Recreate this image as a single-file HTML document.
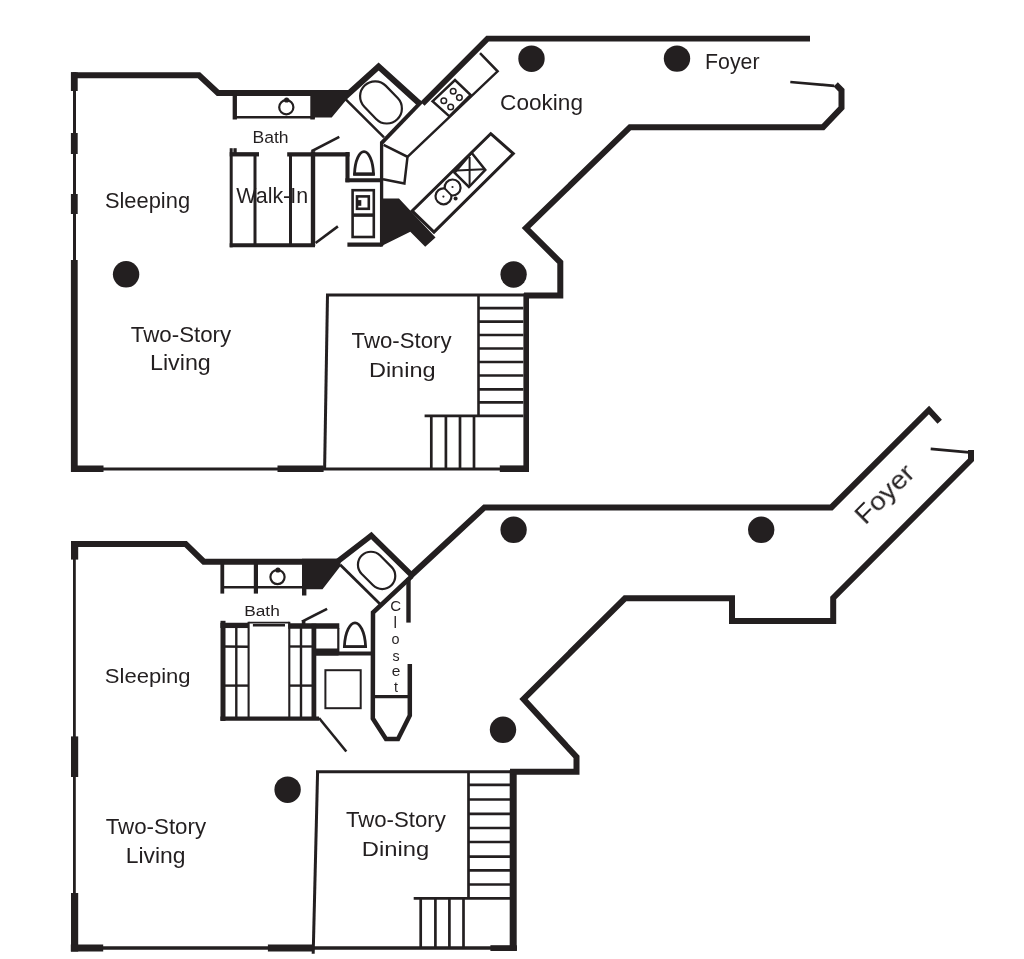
<!DOCTYPE html>
<html><head><meta charset="utf-8"><title>Floor Plan</title>
<style>
html,body{margin:0;padding:0;background:#fff;}
body{width:1024px;height:959px;overflow:hidden;}
svg{display:block;}
text{font-family:"Liberation Sans",sans-serif;fill:#231f20;}
text.big{}
.tx{opacity:0.999;}
</style></head><body>
<svg width="1024" height="959" viewBox="0 0 1024 959">
<g class="tx">
<text id="foyer1" class="big" x="705.10" y="69.25" font-size="21.64" textLength="54.40" lengthAdjust="spacingAndGlyphs">Foyer</text>
<text id="cooking" class="big" x="500.10" y="109.60" font-size="21.60" textLength="82.90" lengthAdjust="spacingAndGlyphs">Cooking</text>
<text id="bath1" x="252.50" y="143.45" font-size="15.95" textLength="36.10" lengthAdjust="spacingAndGlyphs">Bath</text>
<text id="sleep1" class="big" x="104.90" y="208.30" font-size="21.80" textLength="85.20" lengthAdjust="spacingAndGlyphs">Sleeping</text>
<text id="walkin" class="big" x="236.30" y="203.45" font-size="22.69" textLength="71.80" lengthAdjust="spacingAndGlyphs">Walk-In</text>
<text id="two1" class="big" x="130.80" y="341.80" font-size="21.75" textLength="100.40" lengthAdjust="spacingAndGlyphs">Two-Story</text>
<text id="living1" class="big" x="150.00" y="370.35" font-size="21.30" textLength="60.80" lengthAdjust="spacingAndGlyphs">Living</text>
<text id="two2" class="big" x="351.60" y="347.80" font-size="21.95" textLength="99.90" lengthAdjust="spacingAndGlyphs">Two-Story</text>
<text id="dining1" class="big" x="368.90" y="377.20" font-size="20.80" textLength="66.70" lengthAdjust="spacingAndGlyphs">Dining</text>
<text id="bath2" x="244.20" y="615.85" font-size="14.89" textLength="35.60" lengthAdjust="spacingAndGlyphs">Bath</text>
<text id="sleep2" class="big" x="104.80" y="683.35" font-size="20.90" textLength="85.80" lengthAdjust="spacingAndGlyphs">Sleeping</text>
<text id="two3" class="big" x="105.70" y="834.30" font-size="21.54" textLength="100.40" lengthAdjust="spacingAndGlyphs">Two-Story</text>
<text id="living2" class="big" x="125.70" y="863.05" font-size="21.30" textLength="59.80" lengthAdjust="spacingAndGlyphs">Living</text>
<text id="two4" class="big" x="345.90" y="826.75" font-size="21.43" textLength="99.90" lengthAdjust="spacingAndGlyphs">Two-Story</text>
<text id="dining2" class="big" x="361.80" y="855.80" font-size="20.20" textLength="67.40" lengthAdjust="spacingAndGlyphs">Dining</text>
<text id="cC" x="395.60" y="611.25" font-size="15.07" text-anchor="middle">C</text>
<text id="cl" x="395.25" y="627.70" font-size="15.73" text-anchor="middle">l</text>
<text id="co" x="395.60" y="644.15" font-size="14.40" text-anchor="middle">o</text>
<text id="cs" x="396.05" y="660.80" font-size="14.22" text-anchor="middle">s</text>
<text id="ce" x="396.05" y="676.25" font-size="15.47" text-anchor="middle">e</text>
<text id="ct" x="395.95" y="692.30" font-size="14.25" text-anchor="middle">t</text>
<text id="foyer2" class="big" x="0.00" y="0.00" font-size="26.00" textLength="72.00" lengthAdjust="spacingAndGlyphs" transform="translate(865.3,525.6) rotate(-45)">Foyer</text>
</g>
<g fill="none" stroke="#231f20" stroke-linejoin="miter" stroke-linecap="butt">

<!-- ================= TOP PLAN ================= -->
<!-- outer top-left wall -->
<polyline points="71,75.3 199,75.3 218,93 348,93" stroke-width="6"/>
<!-- left wall thin + thick segments -->
<line x1="74.5" y1="72.3" x2="74.5" y2="471" stroke-width="3"/>
<line x1="74.3" y1="72.3" x2="74.3" y2="91" stroke-width="6.8"/>
<line x1="74.3" y1="133" x2="74.3" y2="154" stroke-width="6.8"/>
<line x1="74.3" y1="194" x2="74.3" y2="214" stroke-width="6.8"/>
<line x1="74.3" y1="260" x2="74.3" y2="472" stroke-width="6.8"/>
<!-- bottom wall -->
<line x1="71" y1="468.9" x2="529" y2="468.9" stroke-width="3"/>
<line x1="71" y1="468.7" x2="103.5" y2="468.7" stroke-width="6.6"/>
<line x1="277.5" y1="468.7" x2="323.6" y2="468.7" stroke-width="6.6"/>
<line x1="499.8" y1="468.7" x2="529" y2="468.7" stroke-width="6.6"/>
<!-- dining walls -->
<line x1="327.5" y1="294.6" x2="324.6" y2="470" stroke-width="3"/>
<line x1="326" y1="295" x2="524" y2="295" stroke-width="2.8"/>
<line x1="526.2" y1="293.6" x2="526.2" y2="472" stroke-width="5.6"/>
<polyline points="524,295.6 560.3,295.6 560.3,262.3 526,228 630,127.2 823,127.2 841.5,107.9 841.5,90.3 835.7,84.4" stroke-width="6"/>
<!-- top long wall -->
<polyline points="810,38.7 487.5,38.7 422.5,103.7" stroke-width="5.8"/>
<line x1="421.5" y1="101.6" x2="381.5" y2="143.2" stroke-width="3.9"/>
<line x1="381.6" y1="141.7" x2="381.6" y2="246" stroke-width="3.3"/>
<!-- tub enclosure -->
<polyline points="343.5,98.3 378.6,66.5 420,104" stroke-width="6"/>
<line x1="345.5" y1="99.2" x2="384" y2="137.3" stroke-width="2.5"/>
<rect x="-23.5" y="-15" width="47" height="30" rx="15" transform="translate(381,102.4) rotate(46)" stroke-width="2.2"/>
<!-- black fill near tub -->
<polygon points="310.3,90.3 348.3,90.3 346,100.3 331.7,117.6 314.8,117.6 314.8,119.4 310.3,119.4" fill="#231f20" stroke="none"/>
<!-- vanity -->
<line x1="234.8" y1="93" x2="234.8" y2="119.5" stroke-width="4.3"/>
<line x1="234.8" y1="117.2" x2="315" y2="117.2" stroke-width="2.5"/>
<circle cx="286.3" cy="107.2" r="7.1" stroke-width="2.2"/>
<circle cx="286.6" cy="100" r="2.6" fill="#231f20" stroke="none"/>
<!-- walk-in closet -->
<line x1="231.2" y1="148.2" x2="231.2" y2="247.3" stroke-width="3"/>
<rect x="233.4" y="148.2" width="3.3" height="5" fill="#231f20" stroke="none"/>
<line x1="229.7" y1="154.3" x2="259" y2="154.3" stroke-width="4.3"/>
<line x1="287.2" y1="154.3" x2="349.5" y2="154.3" stroke-width="4.3"/>
<line x1="255" y1="154" x2="255" y2="245" stroke-width="3"/>
<line x1="290.5" y1="154" x2="290.5" y2="245" stroke-width="3"/>
<line x1="313" y1="151.2" x2="313" y2="246" stroke-width="4.4"/>
<line x1="229.7" y1="245.3" x2="315" y2="245.3" stroke-width="4"/>
<line x1="311.5" y1="151.2" x2="339.3" y2="136.9" stroke-width="2.6"/>
<line x1="315.6" y1="243" x2="337.9" y2="226.4" stroke-width="2.6"/>
<!-- toilet room -->
<line x1="347.5" y1="152" x2="347.5" y2="182.3" stroke-width="4.1"/>
<line x1="345.4" y1="180.3" x2="381.5" y2="180.3" stroke-width="4"/>
<path d="M354.5,174 C355,160 359.5,151.6 364,151.6 C368.5,151.6 373,160 373.5,174 Z" stroke-width="2.8"/>
<line x1="353.3" y1="174.2" x2="374.7" y2="174.2" stroke-width="3"/>
<rect x="352.6" y="190.2" width="21.2" height="46.8" stroke-width="2.6"/>
<line x1="352.6" y1="215.1" x2="373.8" y2="215.1" stroke-width="3.5"/>
<rect x="357" y="196.4" width="11.8" height="12.4" stroke-width="2.6"/>
<rect x="357.8" y="200.1" width="3.5" height="5.7" fill="#231f20" stroke="none"/>
<line x1="347.4" y1="244.6" x2="382.7" y2="244.6" stroke-width="4.1"/>
<!-- black polygon near sink counter -->
<polygon points="380,198.6 399,198.6 435.5,237.6 425.2,246.7 410.3,231.8 380,246.7" fill="#231f20" stroke="none"/>
<!-- counter pentagon + upper counter -->
<polyline points="383.6,144.8 407.5,156.8 404.4,183.4 383,179.2" stroke-width="2.5"/>
<polyline points="407.5,156.8 497.6,71.3 480,53.2" stroke-width="2.5"/>
<!-- stove -->
<polygon points="432.5,101.3 455,80 470.7,95 449.4,116.4" stroke-width="2.5"/>
<g stroke-width="1.5"><circle cx="453.2" cy="91.3" r="2.8"/><circle cx="459.4" cy="97.6" r="2.8"/><circle cx="443.8" cy="100.7" r="2.8"/><circle cx="450.7" cy="107" r="2.8"/></g>
<!-- sink counter -->
<polygon points="490.7,133.7 513.3,153.5 434,232.1 412.1,210.9" stroke-width="3"/>
<polygon points="471.6,152.8 485.3,169.9 468.9,187 454.5,172.6" stroke-width="2.5"/>
<line x1="469.6" y1="157" x2="469.6" y2="185" stroke-width="2"/>
<line x1="456.6" y1="170.6" x2="483.9" y2="169.2" stroke-width="2"/>
<path d="M451.45,195.42 A8,8 0 1 1 444.65,188.38 A8,8 0 1 1 451.45,195.42 Z" stroke-width="2.2"/>
<line x1="444.2" y1="187.9" x2="451.9" y2="195.9" stroke-width="2"/>
<circle cx="443.4" cy="196.6" r="1.1" fill="#231f20" stroke="none"/>
<circle cx="452.5" cy="187" r="1.1" fill="#231f20" stroke="none"/>
<circle cx="455.6" cy="198.4" r="2" fill="#231f20" stroke="none"/>
<!-- foyer thin line -->
<line x1="790.3" y1="82" x2="834.2" y2="85.9" stroke-width="2.7"/>
<!-- stairs top -->
<line x1="478.5" y1="294.6" x2="478.5" y2="415.9" stroke-width="2.6"/>
<g stroke-width="2.7">
<line x1="478.5" y1="308.1" x2="523.4" y2="308.1"/>
<line x1="478.5" y1="321.6" x2="523.4" y2="321.6"/>
<line x1="478.5" y1="335" x2="523.4" y2="335"/>
<line x1="478.5" y1="348.5" x2="523.4" y2="348.5"/>
<line x1="478.5" y1="362" x2="523.4" y2="362"/>
<line x1="478.5" y1="375.5" x2="523.4" y2="375.5"/>
<line x1="478.5" y1="389.4" x2="523.4" y2="389.4"/>
<line x1="478.5" y1="402.4" x2="523.4" y2="402.4"/>
<line x1="424.6" y1="415.9" x2="523.4" y2="415.9"/>
<line x1="431.3" y1="415.9" x2="431.3" y2="468"/>
<line x1="445.9" y1="415.9" x2="445.9" y2="468"/>
<line x1="460" y1="415.9" x2="460" y2="468"/>
<line x1="474" y1="415.9" x2="474" y2="468"/>
</g>
</g>
<!-- dots -->
<g fill="#231f20">
<circle cx="531.5" cy="58.7" r="13.2"/>
<circle cx="677" cy="58.6" r="13.2"/>
<circle cx="126.1" cy="274.3" r="13.2"/>
<circle cx="513.6" cy="274.5" r="13.2"/>
</g>

<!-- ================= BOTTOM PLAN ================= -->
<g fill="none" stroke="#231f20" stroke-linejoin="miter" stroke-linecap="butt">
<!-- outer top-left wall -->
<polyline points="71,543.9 185.6,543.9 203.8,561.7 339.5,561.7" stroke-width="6"/>
<!-- left wall -->
<line x1="74.4" y1="541" x2="74.4" y2="951" stroke-width="2.8"/>
<line x1="74.6" y1="541" x2="74.6" y2="559.6" stroke-width="7.2"/>
<line x1="74.6" y1="736.4" x2="74.6" y2="777" stroke-width="7.2"/>
<line x1="74.6" y1="893" x2="74.6" y2="951.6" stroke-width="7.2"/>
<!-- bottom wall -->
<line x1="71" y1="948" x2="516.8" y2="948" stroke-width="3.3"/>
<line x1="70.8" y1="948" x2="103.2" y2="948" stroke-width="7.2"/>
<line x1="267.9" y1="948" x2="313.8" y2="948" stroke-width="7.2"/>
<line x1="490.4" y1="948.1" x2="516.8" y2="948.1" stroke-width="5.8"/>
<!-- dining walls -->
<line x1="317.6" y1="771.4" x2="313.2" y2="953.8" stroke-width="3"/>
<line x1="316" y1="771.7" x2="511" y2="771.7" stroke-width="3"/>
<line x1="513.2" y1="770" x2="513.2" y2="951" stroke-width="7"/>
<polyline points="510,771.8 576.5,771.8 576.5,757 523.5,699 625,598.3 732,598.3 732,621.1 833.2,621.1 833.2,598 971,459.8 971,450" stroke-width="6"/>
<!-- top long wall -->
<polyline points="939.7,421.7 929,410 831.3,507.4 484.5,507.4 410.2,576.3" stroke-width="6"/>
<!-- tub enclosure -->
<polyline points="336.6,562.3 371.3,535.5 412,575.5" stroke-width="5.5"/>
<line x1="340.2" y1="564.8" x2="380" y2="603.9" stroke-width="2.8"/>
<rect x="-21" y="-13" width="42" height="26" rx="13" transform="translate(376.6,570.4) rotate(45)" stroke-width="2.2"/>
<!-- closet -->
<polyline points="412,576 373,612.5 372.8,718.5 386,739 398,739 409.8,715.5 409.8,664" stroke-width="4.5"/>
<line x1="408.5" y1="578" x2="408.5" y2="622.6" stroke-width="4.4"/>
<line x1="373" y1="696.6" x2="409.8" y2="696.6" stroke-width="3.2"/>
<!-- black fill -->
<polygon points="302,558.8 340.5,558.8 340.5,566 322.5,589.2 306.4,589.2 306.4,595.5 302,595.5" fill="#231f20" stroke="none"/>
<!-- vanity -->
<line x1="222.3" y1="561.5" x2="222.3" y2="593.6" stroke-width="3.8"/>
<line x1="255.9" y1="561.5" x2="255.9" y2="593.6" stroke-width="4.2"/>
<line x1="222.3" y1="587.2" x2="302" y2="587.2" stroke-width="2.5"/>
<circle cx="277.5" cy="577.1" r="7.1" stroke-width="2.2"/>
<circle cx="277.9" cy="570" r="2.6" fill="#231f20" stroke="none"/>
<!-- closet block -->
<line x1="223" y1="620.8" x2="223" y2="720.9" stroke-width="5"/>
<line x1="220.4" y1="625.4" x2="248.6" y2="625.4" stroke-width="5.3"/>
<line x1="288.2" y1="625.9" x2="339.3" y2="625.9" stroke-width="5.5"/>
<line x1="248.6" y1="622.6" x2="289.3" y2="622.6" stroke-width="1.8"/>
<line x1="252.9" y1="625.3" x2="285" y2="625.3" stroke-width="2.6"/>
<line x1="248.6" y1="621.8" x2="248.6" y2="717" stroke-width="2.1"/>
<line x1="289.3" y1="621.8" x2="289.3" y2="717" stroke-width="2.1"/>
<line x1="236.3" y1="625" x2="236.3" y2="717" stroke-width="2.4"/>
<line x1="301" y1="625" x2="301" y2="717" stroke-width="2.4"/>
<g stroke-width="2.4">
<line x1="223" y1="646.5" x2="248.6" y2="646.8"/>
<line x1="223" y1="685.6" x2="248.6" y2="685.6"/>
<line x1="289.3" y1="646.5" x2="313.8" y2="646.5"/>
<line x1="289.3" y1="685.6" x2="313.8" y2="685.6"/>
</g>
<line x1="313.9" y1="623.7" x2="313.9" y2="718" stroke-width="4.8"/>
<line x1="220.4" y1="718.6" x2="319" y2="718.6" stroke-width="4.2"/>
<line x1="302" y1="621.7" x2="327.1" y2="608.8" stroke-width="2.6"/>
<rect x="301.8" y="620.4" width="3.6" height="4" fill="#231f20" stroke="none"/>
<line x1="319" y1="718" x2="346.3" y2="751.5" stroke-width="2.6"/>
<!-- toilet room -->
<line x1="338.3" y1="628" x2="338.3" y2="652" stroke-width="2.2"/>
<rect x="316" y="648.5" width="22.6" height="7" fill="#231f20" stroke="none"/>
<line x1="316" y1="653.5" x2="372" y2="653.5" stroke-width="4"/>
<path d="M344.4,646.6 C345,631 350.5,622.8 355,622.8 C359.5,622.8 365,631 365.6,646.6 Z" stroke-width="2.8"/>
<line x1="343.4" y1="646.8" x2="366.7" y2="646.8" stroke-width="2.4"/>
<rect x="325.4" y="670.2" width="35.3" height="38" stroke-width="2"/>
<!-- foyer thin line -->
<line x1="930.7" y1="448.8" x2="969" y2="452.4" stroke-width="2.7"/>
<!-- stairs bottom -->
<line x1="468.5" y1="771.7" x2="468.5" y2="898.3" stroke-width="2.7"/>
<g stroke-width="2.7">
<line x1="468.5" y1="784.9" x2="511" y2="784.9"/>
<line x1="468.5" y1="799.5" x2="511" y2="799.5"/>
<line x1="468.5" y1="813.9" x2="511" y2="813.9"/>
<line x1="468.5" y1="828" x2="511" y2="828"/>
<line x1="468.5" y1="842" x2="511" y2="842"/>
<line x1="468.5" y1="856.7" x2="511" y2="856.7"/>
<line x1="468.5" y1="870.4" x2="511" y2="870.4"/>
<line x1="468.5" y1="884.5" x2="511" y2="884.5"/>
<line x1="413.7" y1="898.3" x2="511" y2="898.3"/>
<line x1="420.7" y1="898.3" x2="420.7" y2="947"/>
<line x1="435.4" y1="898.3" x2="435.4" y2="947"/>
<line x1="449.4" y1="898.3" x2="449.4" y2="947"/>
<line x1="463.5" y1="898.3" x2="463.5" y2="947"/>
</g>
</g>
<g fill="#231f20">
<circle cx="513.6" cy="529.8" r="13.2"/>
<circle cx="761.2" cy="529.8" r="13.2"/>
<circle cx="503" cy="729.8" r="13.2"/>
<circle cx="287.6" cy="789.7" r="13.2"/>
</g>

</svg>
</body></html>
